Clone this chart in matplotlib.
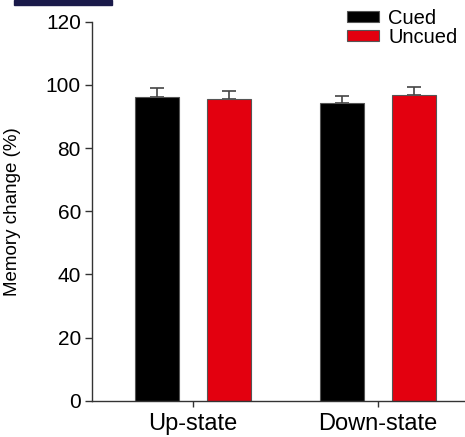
import matplotlib.pyplot as plt
from matplotlib.patches import Rectangle
import numpy as np

plt.rcParams['font.family'] = ['Liberation Sans', 'DejaVu Sans']

groups = ["Up-state", "Down-state"]
series = ["Cued", "Uncued"]
cued = [96.2, 94.3]
cued_err = [2.8, 2.2]
uncued = [95.7, 96.7]
uncued_err = [2.3, 2.8]
colors = ["#000000", "#e3000f"]

fig = plt.figure(figsize=(4.65, 4.37), dpi=100)
ax = fig.add_axes([0.198, 0.083, 0.802, 0.867])

x = np.arange(len(groups))
w = 0.237
off = 0.194
for vals, errs, col, lab, sgn in [(cued, cued_err, colors[0], series[0], -1),
                                   (uncued, uncued_err, colors[1], series[1], 1)]:
    ax.bar(x + sgn * off, vals, w, color=col, edgecolor="#555555", linewidth=0.8,
           label=lab, zorder=2)
    ax.errorbar(x + sgn * off, vals, yerr=[np.zeros(len(errs)), errs], fmt="none",
                ecolor="#444444", elinewidth=1.2, capsize=5, capthick=1.2, zorder=1)

ax.set_xlim(-0.543, 1.47)
ax.set_ylim(0, 120)
ax.set_yticks([0, 20, 40, 60, 80, 100, 120])
ax.set_xticks(x)
ax.set_xticklabels(groups, fontsize=17)
ax.tick_params(axis="y", labelsize=15, length=5, width=1, color="#333333", pad=3)
ax.tick_params(axis="x", length=4, width=1, color="#333333", pad=5)
for s in ["top", "right"]:
    ax.spines[s].set_visible(False)
for s in ["left", "bottom"]:
    ax.spines[s].set_color("#333333")
    ax.spines[s].set_linewidth(1)

ax.set_ylabel("Memory change (%)", fontsize=13.5)
ax.yaxis.set_label_coords(-0.19, 0.5)

leg = ax.legend(loc="upper left", bbox_to_anchor=(0.683, 1.035), frameon=False, fontsize=14.5,
                handlelength=1.6, handleheight=0.5, handletextpad=0.45, labelspacing=0.0,
                borderaxespad=0, borderpad=0)

# dark strip at top-left of the original image
fig.patches.append(Rectangle((14 / 465, 1 - 5 / 437), 98 / 465, 5 / 437,
                             transform=fig.transFigure, color="#1a1a4a", zorder=5))

fig.savefig("out.png", dpi=100)
